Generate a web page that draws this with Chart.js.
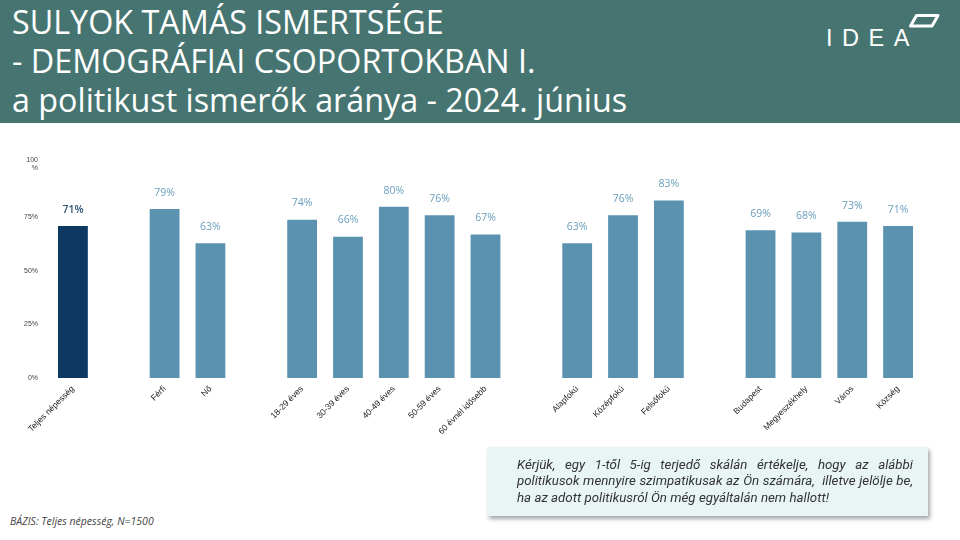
<!DOCTYPE html>
<html><head><meta charset="utf-8">
<script src="https://cdn.jsdelivr.net/npm/chart.js@4"></script>
<style>
html,body{margin:0;padding:0;background:#fff;}
body{width:960px;height:540px;position:relative;overflow:hidden;font-family:"Open Sans",sans-serif;}
#hdr{position:absolute;left:0;top:0;width:960px;height:123px;background:#467571;}
#title{position:absolute;left:12px;top:2px;color:#fff;font-family:"Open Sans",sans-serif;font-size:32.3px;line-height:39px;font-weight:400;white-space:nowrap;}
#logo{position:absolute;left:826px;top:25px;color:#fff;font-family:"Liberation Sans",Arial,sans-serif;font-size:23.5px;letter-spacing:9.5px;font-weight:400;}
#logosvg{position:absolute;left:0;top:0;}
#wrap{position:absolute;left:0;top:140px;width:960px;height:320px;}
#note{position:absolute;left:487px;top:447px;width:441px;height:69px;background:#e9f4f4;box-shadow:2px 3px 4px rgba(0,0,0,0.35);}
#note p{margin:0;position:absolute;left:30px;top:9.5px;width:396px;font-family:Roboto,sans-serif;font-style:italic;font-size:13.3px;line-height:16.5px;color:#333;text-align:justify;text-align-last:left;}
#base{position:absolute;left:10px;top:514px;font-family:"Open Sans",sans-serif;font-style:italic;font-size:10.5px;color:#444;}
</style></head><body>
<div id="hdr"></div>
<div id="title">SULYOK TAMÁS ISMERTSÉGE<br>- DEMOGRÁFIAI CSOPORTOKBAN I.<br>a politikust ismerők aránya - 2024. június</div>
<div id="logo">IDEA</div>
<svg id="logosvg" width="960" height="60"><polygon points="916.5,15.5 938,15.5 932,26 910.5,26" fill="none" stroke="#fff" stroke-width="3" stroke-linejoin="round"/></svg>
<div id="wrap"><canvas id="c"></canvas></div>
<div id="note"><p>Kérjük, egy 1-től 5-ig terjedő skálán értékelje, hogy az alábbi politikusok mennyire szimpatikusak az Ön számára,&nbsp; illetve jelölje be, ha az adott politikusról Ön még egyáltalán nem hallott!</p></div>
<div id="base">BÁZIS: Teljes népesség, N=1500</div>
<script>
const categories = ['Teljes népesség','', 'Férfi','Nő','', '18-29 éves','30-39 éves','40-49 éves','50-59 éves','60 évnél idősebb','', 'Alapfokú','Középfokú','Felsőfokú','', 'Budapest','Megyeszékhely','Város','Község'];
const values = [71,null, 79,63,null, 74,66,80,76,67,null, 63,76,83,null, 69,68,73,71];
const yTicks = [0,25,50,75,100];

const DARK='#0c3862', LIGHT='#5a92b0';
const barColors = values.map((v,i)=> i===0 ? DARK : LIGHT);
const labelColors = values.map((v,i)=> i===0 ? '#2c5377' : '#6a9ebc');

const valueLabels = {
  id:'valueLabels',
  afterDatasetsDraw(chart){
    const ctx=chart.ctx; const meta=chart.getDatasetMeta(0);
    ctx.save();
    ctx.textAlign='center'; ctx.textBaseline='bottom';
    meta.data.forEach((el,i)=>{
      const v=values[i]; if(v===null) return;
      ctx.font=(i===0?'600 ':'400 ')+'10.5px "Open Sans"';
      ctx.fillStyle=labelColors[i];
      ctx.fillText(v+'%', el.x, el.y-11);
    });
    ctx.restore();
  }
};

new Chart(document.getElementById('c'),{
  type:'bar',
  data:{labels:categories,datasets:[{data:values,backgroundColor:barColors,borderWidth:0,barPercentage:0.65,categoryPercentage:1}]},
  options:{
    responsive:true,maintainAspectRatio:false,animation:false,
    layout:{padding:{left:0,right:39,top:24,bottom:0}},
    plugins:{legend:{display:false},tooltip:{enabled:false}},
    scales:{
      x:{grid:{display:false,drawTicks:false},border:{display:false},
        ticks:{autoSkip:false,maxRotation:45,minRotation:45,padding:6,color:'#222',font:{family:'"Liberation Sans", Arial',size:8.5}},
        afterFit(s){s.height=82;}},
      y:{min:0,max:100,grid:{display:false,drawTicks:false},border:{display:false},
        afterBuildTicks(s){s.ticks=yTicks.map(v=>({value:v}));},
        ticks:{padding:12,color:'#444',font:{family:'"Liberation Sans", Arial',size:7},
          callback:(v)=> v===100 ? ['100','%'] : v+'%'},
        afterFit(s){s.width=50;}}
    }
  },
  plugins:[valueLabels]
});
</script>
</body></html>
